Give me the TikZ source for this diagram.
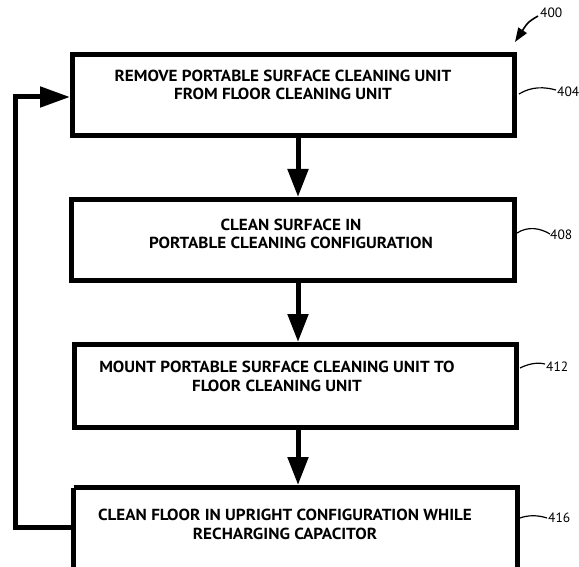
\documentclass[tikz,border=0pt]{standalone}
\usepackage{fontspec}
\setmainfont{PT Sans}
\newfontfamily\stepfont{PT Sans}[FakeStretch=1.07]
\usetikzlibrary{arrows.meta}
\begin{document}
\begin{tikzpicture}[x=1pt,y=-1pt,
  stepbox/.style={draw=black,line width=5pt,fill=none},
  steptext/.style={align=center,font=\stepfont\bfseries\fontsize{16}{18.5}\selectfont,inner sep=0pt},
  flow/.style={line width=5pt,-{Triangle[length=28pt,width=20pt]}},
  reflabel/.style={font=\fontsize{13.5}{13.5}\selectfont,inner sep=0pt,anchor=west},
  refline/.style={line width=1.2pt}]
\useasboundingbox (0,0) rectangle (579,567);
% boxes
\draw[stepbox] (72.5,54.5) rectangle (514.5,135.5);
\node[minimum width=442pt,minimum height=81pt,inner sep=0pt] (b1) at (293.5,95) {};
\draw[stepbox] (71.5,199.5) rectangle (514.5,280.5);
\node[minimum width=443pt,minimum height=81pt,inner sep=0pt] (b2) at (293,240) {};
\draw[stepbox] (74.5,344.5) rectangle (516.5,427.5);
\node[minimum width=442pt,minimum height=83pt,inner sep=0pt] (b3) at (295.5,386) {};
\draw[stepbox] (73.5,487.5) -- (73.5,600) (73.5,487.5) -- (517.5,487.5) -- (517.5,600);
\node[minimum width=444pt,minimum height=150pt,inner sep=0pt] (b4) at (295.5,562.5) {};
% texts
\node[steptext] (t1) at (283,85) {REMOVE PORTABLE SURFACE CLEANING UNIT\\FROM FLOOR CLEANING UNIT};
\node[steptext] (t2) at (291,234) {CLEAN SURFACE IN\\PORTABLE CLEANING CONFIGURATION};
\node[steptext] (t3) at (277,376.5) {MOUNT PORTABLE SURFACE CLEANING UNIT TO\\FLOOR CLEANING UNIT};
\node[steptext] (t4) at (285,524.5) {CLEAN FLOOR IN UPRIGHT CONFIGURATION WHILE\\RECHARGING CAPACITOR};
% flow arrows
\draw[flow] (298,135.5) -- (298,197);
\draw[flow] (298,280.5) -- (298,342);
\draw[flow] (298,427.5) -- (298,485);
\coordinate (c1) at (15,527);
\coordinate (c2) at (15,97);
\draw[line width=5pt,-{Triangle[length=30pt,width=20pt]}] (71,527) -- (c1) -- (c2) -- (70,97);
% reference labels
\node[reflabel] (l400) at (540,13) {400};
\draw[line width=1.6pt,-{Triangle[length=14pt,width=10pt]}] (538,16) .. controls (528,22) .. (515,42);
\node[reflabel] (l404) at (557,92) {404};
\draw[refline] (519,94) .. controls (532,86) and (545,87) .. (556,90);
\node[reflabel] (l408) at (550,235) {408};
\draw[refline] (517,233) .. controls (528,226) and (540,228) .. (550,234);
\node[reflabel] (l412) at (546,367) {412};
\draw[refline] (520,368) .. controls (528,364) and (537,362) .. (545,364);
\node[reflabel] (l416) at (548,518) {416};
\draw[refline] (520,518) .. controls (528,515) and (538,515) .. (547,518);
\end{tikzpicture}
\end{document}
